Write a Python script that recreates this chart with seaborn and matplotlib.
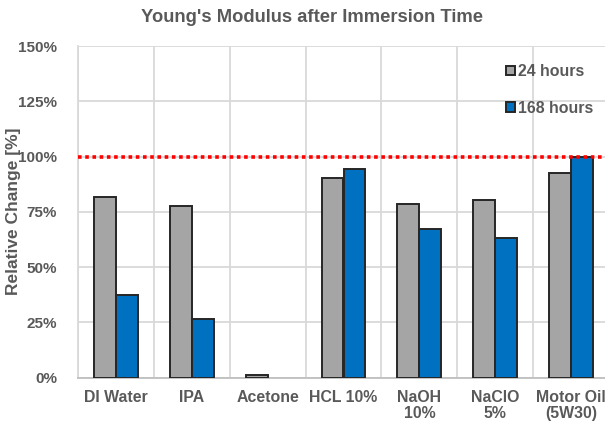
import numpy as np
import pandas as pd
import matplotlib
matplotlib.use("Agg")
import matplotlib.pyplot as plt
import seaborn as sns
from matplotlib.patches import Patch
from matplotlib.ticker import FixedLocator, FuncFormatter

categories = ["DI Water", "IPA", "Acetone", "HCL 10%", "NaOH\n10%", "NaClO\n5%", "Motor Oil\n(5W30)"]
h24 = [81.7, 77.8, 1.0, 90.2, 78.4, 80.4, 92.4]
h168 = [37.2, 26.5, 0.0, 94.4, 67.2, 63.0, 99.9]
series = ["24 hours", "168 hours"]
colors = ["#a5a5a5", "#0070c0"]
yticks = [0, 25, 50, 75, 100, 125, 150]
ref_line = 100

df = pd.DataFrame({
    "Solvent": categories * 2,
    "Time": [series[0]] * len(categories) + [series[1]] * len(categories),
    "Change": h24 + h168,
})

sns.set_style("white")
plt.rcParams["font.family"] = ["Liberation Sans", "DejaVu Sans"]
text_color = "#595959"

fig = plt.figure(figsize=(6.05, 4.23), dpi=100)
ax = fig.add_axes([78 / 605, 45.3 / 423, 531 / 605, 331.5 / 423])

sns.barplot(data=df, x="Solvent", y="Change", hue="Time", order=categories,
            hue_order=series, palette=colors, saturation=1, width=0.58, gap=0,
            edgecolor="#262626", linewidth=1.4, ax=ax, legend=False, zorder=3)
for p in ax.patches:
    if p.get_height() == 0:
        p.set_linewidth(0)

ax.axhline(ref_line, color="#ff0000", linestyle=(0, (1, 1)), linewidth=2.6, zorder=4)

ax.set_ylim(0, 150)
ax.set_xlim(-0.5, len(categories) - 0.5)
ax.set_yticks(yticks)
ax.yaxis.set_major_formatter(FuncFormatter(lambda v, _: f"{v:.0f}%"))
ax.xaxis.set_minor_locator(FixedLocator(np.arange(-0.5, len(categories), 1.0)))
ax.grid(True, which="major", axis="y", color="#d9d9d9", linewidth=1.3, zorder=0)
ax.grid(True, which="minor", axis="x", color="#d9d9d9", linewidth=1.3, zorder=0)
ax.set_axisbelow(True)

for s in ["top", "right"]:
    ax.spines[s].set_visible(False)
ax.spines["left"].set_color("#d9d9d9")
ax.spines["bottom"].set_color("#bfbfbf")
ax.spines["left"].set_linewidth(1.3)
ax.spines["bottom"].set_linewidth(1.3)

ax.tick_params(axis="y", length=0, pad=15, labelsize=11, labelcolor=text_color)
ax.tick_params(axis="x", which="both", length=0, pad=9, labelsize=11.4, labelcolor=text_color)
for lab in ax.get_xticklabels() + ax.get_yticklabels():
    lab.set_fontweight("bold")
for lab in ax.get_xticklabels():
    lab.set_linespacing(1.08)

ax.set_xlabel("")
ax.set_ylabel("Relative Change [%]", fontsize=12.5, fontweight="bold", color=text_color)
ax.yaxis.set_label_coords(-(78 - 21.5) / 531, (377.7 - 211) / 331.5)

fig.text(312 / 605, 1 - 18 / 423, "Young's Modulus after Immersion Time", ha="center", va="center",
         fontsize=13.2, fontweight="bold", color=text_color)

handles = [Patch(facecolor=c, edgecolor="#262626", linewidth=1.4) for c in colors]
leg = ax.legend(handles, series, loc="upper left", bbox_to_anchor=((506 - 78) / 531, 1 - (64 - 46) / 331.5),
                frameon=False, handlelength=0.55, handleheight=0.55, handletextpad=0.2,
                labelspacing=1.35, borderaxespad=0, borderpad=0,
                prop={"weight": "bold", "size": 11.4})
for t in leg.get_texts():
    t.set_color(text_color)

fig.savefig("out.png", dpi=100)
